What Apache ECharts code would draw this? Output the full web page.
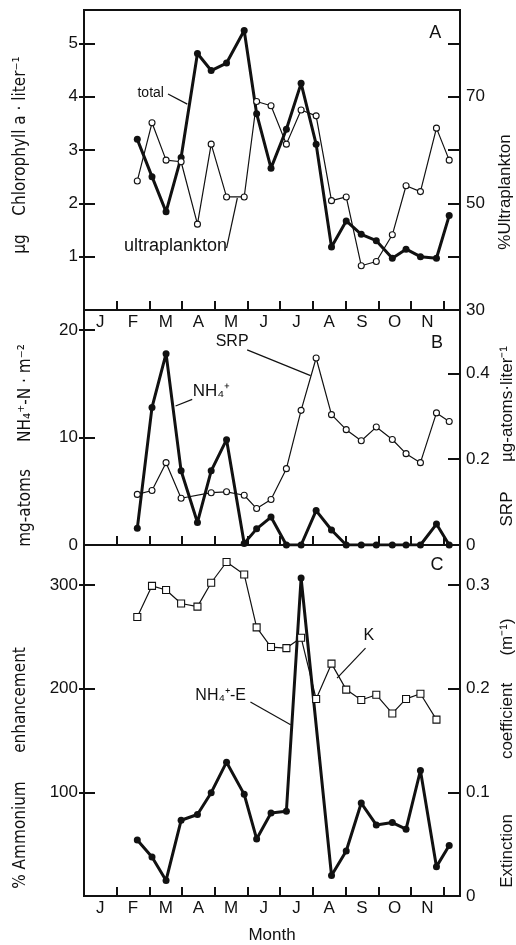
<!DOCTYPE html>
<html><head><meta charset="utf-8">
<script src="https://cdn.jsdelivr.net/npm/echarts@6/dist/echarts.min.js"></script>
<style>html,body{margin:0;padding:0;background:#fff}#c{width:516px;height:945px}</style>
</head><body><div id="c"></div>
<script>
// ---------- data ----------
const months = ['J','F','M','A','M','J','J','A','S','O','N'];
// sampling dates, in months since 1 Jan
const sampleMonth = [1.63, 2.08, 2.51, 2.97, 3.47, 3.89, 4.36, 4.90, 5.28, 5.72, 6.19, 6.64, 7.10, 7.57, 8.02, 8.48, 8.94, 9.43, 9.85, 10.29, 10.78, 11.17];
// Panel A
const chlTotal = [3.20, 2.50, 1.84, 2.86, 4.81, 4.49, 4.63, 5.24, 3.68, 2.66, 3.39, 4.25, 3.11, 1.18, 1.67, 1.42, 1.30, 0.97, 1.14, 1.00, 0.97, 1.77];
const ultraPct = [54.2, 65.1, 58.1, 57.8, 46.1, 61.1, 51.2, 51.2, 69.1, 68.3, 61.1, 67.5, 66.4, 50.5, 51.2, 38.3, 39.1, 44.1, 53.3, 52.2, 64.1, 58.1];
// Panel B
const nh4 = [1.55, 12.8, 17.8, 6.9, 2.1, 6.9, 9.8, 0.15, 1.5, 2.6, 0, 0, 3.2, 1.4, 0, 0, 0, 0, 0, 0, 1.95, 0];
const srp = [0.118, 0.127, 0.192, 0.109, null, 0.122, 0.124, 0.116, 0.085, 0.106, 0.178, 0.314, 0.436, 0.304, 0.269, 0.243, 0.275, 0.246, 0.213, 0.192, 0.308, 0.288];
// Panel C
const nh4Enh = [54, 37.7, 15, 73, 78.6, 99.6, 129, 98, 55, 80, 81.7, 306.6, null, 19.8, 43.4, 89.6, 68.5, 70.8, 64.4, 121, 28.3, 48.7];
const extK = [0.269, 0.299, 0.295, 0.282, 0.279, 0.302, 0.322, 0.310, 0.259, 0.240, 0.239, 0.249, 0.190, 0.224, 0.199, 0.189, 0.194, 0.176, 0.190, 0.195, 0.170, null];
// tick labels
const chlLabels = [1, 2, 3, 4, 5];
const chlTicks = [1, 2, 3, 4, 5];
const ultraLabels = [30, 50, 70];
const ultraTicks = [40, 50, 60, 70, 80];
const nh4Labels = [0, 10, 20];
const nh4Ticks = [10, 20];
const srpLabels = [0, 0.2, 0.4];
const srpTicks = [0.2, 0.4];
const enhLabels = [100, 200, 300];
const enhTicks = [100, 200, 300];
const kLabels = [0, 0.1, 0.2, 0.3];
const kTicks = [0.1, 0.2, 0.3];

// ---------- styling / layout ----------
const INK = '#111';
const FONT = '"Liberation Sans", Arial, Helvetica, sans-serif';
const NARROW = '"Liberation Sans Narrow", "DejaVu Sans Condensed", "Liberation Sans", sans-serif';
const monthBounds = months.map((m, i) => i + 1);
const monthMids = months.map((m, i) => i + 0.5);
const pair = ys => sampleMonth.map((x, i) => [x, ys[i]]);

const gridTops = [10, 310, 545], gridBottoms = [310, 545, 903];
const grid = gridTops.map((t, i) => ({
  left: 84, right: 56, top: t, height: gridBottoms[i] - t,
  show: true, borderColor: INK, borderWidth: 2, backgroundColor: 'transparent'
}));

function xAx(i, showLabels, name) {
  return {
    type: 'value', gridIndex: i, min: 0, max: 11.5,
    axisLine: { show: false }, splitLine: { show: false },
    axisTick: { show: true, inside: true, length: 9, lineStyle: { color: INK, width: 2 }, customValues: monthBounds },
    axisLabel: { show: showLabels, customValues: monthMids, formatter: v => months[Math.round(v - 0.5)],
      fontSize: 17, color: INK, margin: 4, fontFamily: FONT },
    name: name || '', nameLocation: 'middle', nameGap: 31,
    nameTextStyle: { fontSize: 17, color: INK, fontFamily: FONT }
  };
}
function yAx(i, pos, min, max, ticks, labels, tickLen, inside, showLabel) {
  return {
    type: 'value', gridIndex: i, position: pos, min, max,
    axisLine: { show: false }, splitLine: { show: false },
    axisTick: { show: true, inside, length: tickLen, lineStyle: { color: INK, width: 2 }, customValues: ticks },
    axisLabel: { show: showLabel, customValues: labels, fontSize: 17, color: INK, margin: 6, fontFamily: FONT }
  };
}
const yAxis = [
  yAx(0, 'left', 0, 5.625, chlTicks, chlLabels, 11, true, true),
  yAx(0, 'right', 30, 86.25, ultraTicks, ultraLabels, 12, true, true),
  yAx(1, 'left', 0, 21.86, nh4Ticks, nh4Labels, 11, true, true),
  yAx(1, 'right', 0, 0.548, srpTicks, srpLabels, 12, true, true),
  yAx(2, 'left', 0, 338.4, enhTicks, enhLabels, 11, true, true),
  yAx(2, 'right', 0, 0.3384, kTicks, kLabels, 12, true, true),
  // outward tick stubs on the left spine
  yAx(0, 'left', 0, 5.625, chlTicks, [], 5, false, false),
  yAx(1, 'left', 0, 21.86, nh4Ticks, [], 5, false, false),
  yAx(2, 'left', 0, 338.4, enhTicks, [], 5, false, false)
];

function thick(data, xi, yi) {
  return { type: 'line', xAxisIndex: xi, yAxisIndex: yi, data: pair(data), connectNulls: true,
    symbol: 'circle', symbolSize: 7, showSymbol: true, z: 3,
    lineStyle: { color: INK, width: 3 }, itemStyle: { color: INK } };
}
function thin(data, xi, yi, sym, size) {
  return { type: 'line', xAxisIndex: xi, yAxisIndex: yi, data: pair(data), connectNulls: true,
    symbol: sym, symbolSize: size, showSymbol: true, z: 4,
    lineStyle: { color: INK, width: 1.2 }, itemStyle: { color: '#fff', borderColor: INK, borderWidth: 1.1 } };
}

const chart = echarts.init(document.getElementById('c'), null, { renderer: 'canvas' });
chart.setOption({
  animation: false,
  backgroundColor: '#fff',
  grid,
  xAxis: [xAx(0, true), xAx(1, false), xAx(2, true, 'Month')],
  yAxis,
  series: [
    thick(chlTotal, 0, 0),
    thin(ultraPct, 0, 1, 'circle', 6),
    thick(nh4, 1, 2),
    thin(srp, 1, 3, 'circle', 6),
    thick(nh4Enh, 2, 4),
    thin(extK, 2, 5, 'rect', 7)
  ]
});

// ---------- annotations (in data coordinates) ----------
const notes = [
  { text: 'total', xi: 0, yi: 0, at: [2.04, 4.06], size: 14, line: [[2.57, 4.05], [3.16, 3.86]] },
  { text: 'ultraplankton', xi: 0, yi: 1, at: [2.80, 42.0], size: 18, line: [[4.36, 41.6], [4.69, 51.0]] },
  { text: 'A', xi: 0, yi: 0, at: [10.74, 5.19], size: 18 },
  { text: 'SRP', xi: 1, yi: 3, at: [4.53, 0.474], size: 16, line: [[4.99, 0.455], [6.93, 0.395]] },
  { text: 'NH₄⁺', xi: 1, yi: 2, at: [3.90, 14.3], size: 17, line: [[3.31, 13.55], [2.80, 12.93]] },
  { text: 'B', xi: 1, yi: 2, at: [10.80, 18.76], size: 18 },
  { text: 'K', xi: 2, yi: 5, at: [8.71, 0.251], size: 16, line: [[8.61, 0.239], [7.74, 0.210]] },
  { text: 'NH₄⁺-E', xi: 2, yi: 4, at: [4.18, 193.4], size: 16, line: [[5.09, 187.1], [6.32, 165.1]] },
  { text: 'C', xi: 2, yi: 4, at: [10.80, 319], size: 18 }
];
const graphic = [];
notes.forEach(n => {
  const f = { xAxisIndex: n.xi, yAxisIndex: n.yi };
  const p = chart.convertToPixel(f, n.at);
  graphic.push({ type: 'text', x: p[0], y: p[1], z: 10,
    style: { text: n.text, fontSize: n.size, fontFamily: FONT, fill: INK, align: 'center', verticalAlign: 'middle',
      textAlign: 'center', textVerticalAlign: 'middle' } });
  if (n.line) {
    const a = chart.convertToPixel(f, n.line[0]), b = chart.convertToPixel(f, n.line[1]);
    graphic.push({ type: 'line', z: 10, shape: { x1: a[0], y1: a[1], x2: b[0], y2: b[1] },
      style: { stroke: INK, lineWidth: 1.2 } });
  }
});
// axis titles (rotated, read bottom-to-top)
const titles = [
  { text: 'µg', x: 21, y: 244, f: NARROW, s: 17 },
  { text: 'Chlorophyll a · liter⁻¹', x: 21, y: 136, f: NARROW, s: 17 },
  { text: 'mg-atoms', x: 26, y: 508, f: NARROW, s: 17 },
  { text: 'NH₄⁺-N · m⁻²', x: 26, y: 393, f: NARROW, s: 17 },
  { text: '% Ammonium', x: 21, y: 835, f: NARROW, s: 17 },
  { text: 'enhancement', x: 21, y: 700, f: NARROW, s: 17 },
  { text: '%Ultraplankton', x: 505, y: 192, f: FONT, s: 17 },
  { text: 'SRP', x: 507, y: 509, f: FONT, s: 17 },
  { text: 'µg-atoms·liter⁻¹', x: 507, y: 404, f: FONT, s: 17 },
  { text: 'Extinction', x: 507, y: 851, f: FONT, s: 17 },
  { text: 'coefficient', x: 507, y: 721, f: FONT, s: 17 },
  { text: '(m⁻¹)', x: 507, y: 637, f: FONT, s: 17 }
];
titles.forEach(t => graphic.push({ type: 'text', x: t.x, y: t.y, rotation: Math.PI / 2, z: 10,
  style: { text: t.text, fontSize: t.s, fontFamily: t.f, fill: INK, align: 'center', verticalAlign: 'middle',
    textAlign: 'center', textVerticalAlign: 'middle' } }));
chart.setOption({ graphic });
</script></body></html>
